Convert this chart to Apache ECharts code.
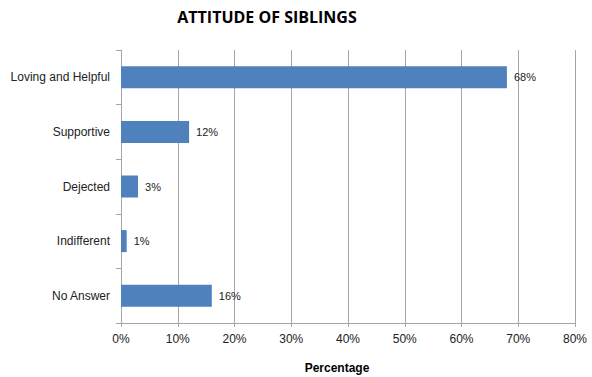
<!DOCTYPE html>
<html>
<head>
<meta charset="utf-8">
<script src="https://cdn.jsdelivr.net/npm/echarts@6/dist/echarts.min.js"></script>
<style>
  html, body { margin: 0; padding: 0; background: #fff; }
  #chart { width: 592px; height: 377px; }
</style>
</head>
<body>
<div id="chart"></div>
<script>
// data
var categories = ['Loving and Helpful', 'Supportive', 'Dejected', 'Indifferent', 'No Answer'];
var percents = [68, 12, 3, 1, 16];
var xTicks = [0, 10, 20, 30, 40, 50, 60, 70, 80];

(function() {
  var barColor = '#4f81bd';
  var gridGray = '#a6a6a6';
  var ink = '#222';
  var font = '"Liberation Sans", Arial, sans-serif';

  var chart = echarts.init(document.getElementById('chart'), null, { renderer: 'svg' });
  chart.setOption({
    animation: false,
    title: [{
      text: 'ATTITUDE OF SIBLINGS',
      left: 262, top: 4, textAlign: 'center',
      textStyle: { fontFamily: '"Open Sans", sans-serif', fontWeight: 'bold', fontSize: 16, color: '#000' }
    }, {
      text: 'Percentage',
      left: 332, top: 357, textAlign: 'center',
      textStyle: { fontFamily: font, fontWeight: 'bold', fontSize: 12, color: '#000' }
    }],
    grid: { left: 121, right: 17, top: 50, bottom: 54, containLabel: false },
    xAxis: {
      type: 'value',
      min: xTicks[0],
      max: xTicks[xTicks.length - 1],
      interval: 10,
      axisLine: { show: true, lineStyle: { color: gridGray } },
      axisTick: { show: true, length: 4, lineStyle: { color: gridGray } },
      axisLabel: { color: ink, fontSize: 12, fontFamily: font, margin: 10, formatter: '{value}%' },
      splitLine: { show: true, lineStyle: { color: gridGray, width: 1 } }
    },
    yAxis: {
      type: 'category',
      inverse: true,
      data: categories,
      axisLine: { show: true, lineStyle: { color: gridGray } },
      axisTick: { show: true, length: 5, lineStyle: { color: gridGray } },
      axisLabel: { color: ink, fontSize: 12, fontFamily: font, margin: 11 },
      splitLine: { show: false }
    },
    series: [{
      type: 'bar',
      data: percents,
      barWidth: 22,
      itemStyle: { color: barColor },
      label: {
        show: true,
        position: 'right',
        distance: 7,
        color: ink,
        fontSize: 11,
        fontFamily: font,
        formatter: '{c}%'
      }
    }]
  });
  window.addEventListener('resize', function() { chart.resize(); });
})();
</script>
</body>
</html>
